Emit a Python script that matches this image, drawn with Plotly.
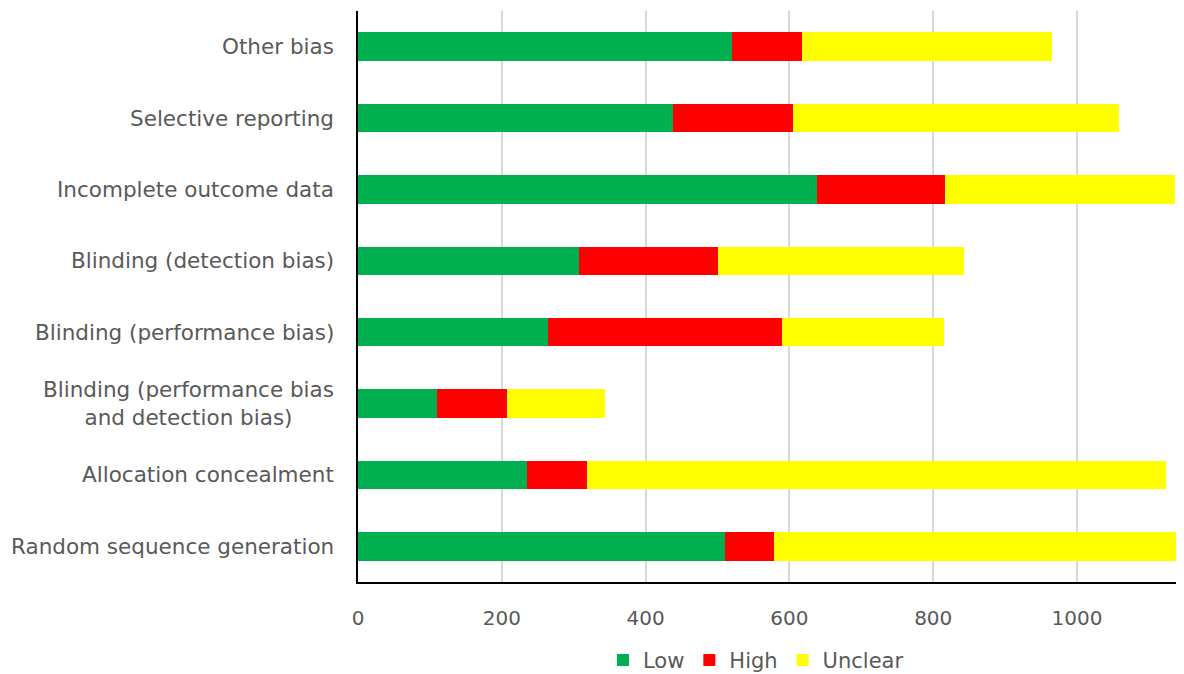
import plotly.graph_objects as go

categories = [
    "Random sequence generation",
    "Allocation concealment",
    "Blinding (performance bias<br>and detection bias)",
    "Blinding (performance bias)",
    "Blinding (detection bias)",
    "Incomplete outcome data",
    "Selective reporting",
    "Other bias",
]
low = [510, 235, 110, 264, 308, 639, 438, 520]
high = [68, 84, 97, 325, 193, 178, 167, 98]
unclear = [560, 805, 136, 226, 342, 319, 453, 347]
x_ticks = [0, 200, 400, 600, 800, 1000]

FONT = "DejaVu Sans"
GRAY = "#595959"

fig = go.Figure()
for name, vals, col in [("Low", low, "#00B050"), ("High", high, "#FF0000"), ("Unclear", unclear, "#FFFF00")]:
    fig.add_trace(go.Bar(y=categories, x=vals, name=name, orientation="h",
                         marker=dict(color=col, line=dict(width=0))))

for c in categories:
    fig.add_annotation(x=0, xref="paper", y=c, yref="y", text=c, showarrow=False,
                       xanchor="right", xshift=-22, align="center",
                       font=dict(family=FONT, size=21.5, color=GRAY))

fig.update_layout(
    barmode="stack",
    bargap=0.6,
    width=1184, height=674,
    margin=dict(l=350, r=10, t=3, b=100, autoexpand=False),
    plot_bgcolor="white", paper_bgcolor="white",
    font=dict(family=FONT, size=20, color=GRAY),
    legend=dict(orientation="h", x=0.483, xanchor="center", y=-0.137, yanchor="middle",
                font=dict(size=21, color=GRAY), traceorder="normal"),
    xaxis=dict(range=[0, 1146], tickvals=x_ticks, showgrid=True, gridcolor="#D9D9D9", gridwidth=1.5,
               showline=True, linecolor="black", linewidth=2, zeroline=False,
               ticks="", ticklabelstandoff=17, tickfont=dict(size=20, color=GRAY)),
    yaxis=dict(showticklabels=False, showline=True, linecolor="black", linewidth=2,
               ticks="", showgrid=False),
)
fig.write_html("out.html")
